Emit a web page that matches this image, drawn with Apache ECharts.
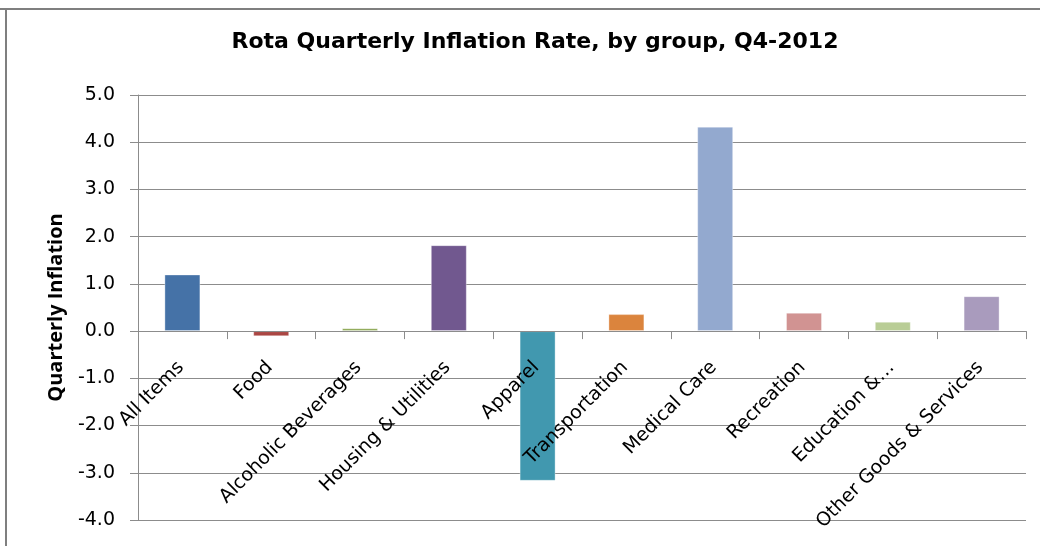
<!DOCTYPE html>
<html>
<head>
<meta charset="utf-8">
<script src="https://cdn.jsdelivr.net/npm/echarts@6/dist/echarts.min.js"></script>
<style>
  html, body { margin: 0; padding: 0; background: #fff; }
  #chart { width: 1040px; height: 546px; }
</style>
</head>
<body>
<div id="chart"></div>
<script>
// chart data
const categories = ['All Items', 'Food', 'Alcoholic Beverages', 'Housing & Utilities', 'Apparel',
  'Transportation', 'Medical Care', 'Recreation', 'Education &…', 'Other Goods & Services']
const inflation = [1.2, -0.11, 0.06, 1.82, -3.17, 0.36, 4.33, 0.39, 0.2, 0.74]
const barColors = ['#4572A7', '#AA4643', '#89A54E', '#71588F', '#4198AF',
  '#DB843D', '#93A9CF', '#D19392', '#B9CD96', '#A99BBD']
const yTicks = [-4, 5, 1] // min, max, interval

const axisGrey = '#8c8c8c'
const gridTop = 95
const gridBottom = 26
const plotHeight = 546 - gridTop - gridBottom
// labels sit under the zero line, like the excel chart
const zeroOffset = (0 - yTicks[0]) / (yTicks[1] - yTicks[0]) * plotHeight

const chart = echarts.init(document.getElementById('chart'))

const option = {
  animation: false,
  title: {
    text: 'Rota Quarterly Inflation Rate, by group, Q4-2012',
    left: 530,
    textAlign: 'center',
    top: 26,
    textStyle: { fontFamily: 'DejaVu Sans', fontWeight: 'bold', fontSize: 22, color: '#000' }
  },
  graphic: [
    // chart frame edges visible in the crop
    { type: 'line', shape: { x1: 0, y1: 9, x2: 1040, y2: 9 }, style: { stroke: '#7f7f7f', lineWidth: 2 } },
    { type: 'line', shape: { x1: 6, y1: 9, x2: 6, y2: 546 }, style: { stroke: '#7f7f7f', lineWidth: 2 } }
  ],
  grid: { left: 138, right: 14, top: gridTop, bottom: gridBottom, containLabel: false, outerBoundsMode: 'none' },
  xAxis: [
    {
      type: 'category',
      data: categories,
      z: 3,
      axisLine: { onZero: true, lineStyle: { color: axisGrey } },
      axisTick: { show: true, interval: 0, length: 8, lineStyle: { color: axisGrey } },
      axisLabel: { show: false }
    },
    {
      type: 'category',
      data: categories,
      position: 'bottom',
      offset: -zeroOffset,
      z: 10,
      axisLine: { show: false, onZero: false },
      axisTick: { show: false },
      axisLabel: {
        interval: 0,
        rotate: 45,
        margin: 32,
        padding: [0, 2, 0, 0],
        color: '#000',
        fontFamily: 'DejaVu Sans',
        fontSize: 19
      }
    }
  ],
  yAxis: {
    type: 'value',
    min: yTicks[0],
    max: yTicks[1],
    interval: yTicks[2],
    name: 'Quarterly Inflation',
    nameLocation: 'middle',
    nameGap: 72,
    nameTextStyle: { fontFamily: 'Open Sans', fontWeight: 'bold', fontSize: 20, color: '#000' },
    axisLine: { show: true, lineStyle: { color: axisGrey } },
    axisTick: { show: true, length: 8, lineStyle: { color: axisGrey } },
    axisLabel: {
      margin: 23,
      color: '#000',
      fontFamily: 'DejaVu Sans',
      fontSize: 19,
      formatter: v => v.toFixed(1)
    },
    splitLine: { lineStyle: { color: axisGrey, width: 1 } }
  },
  series: [
    {
      type: 'bar',
      barWidth: 36,
      data: inflation.map((v, i) => ({
        value: v,
        itemStyle: {
          color: barColors[i],
          borderColor: 'rgba(255,255,255,0.35)',
          borderWidth: 1
        }
      }))
    }
  ]
}

chart.setOption(option)
</script>
</body>
</html>
